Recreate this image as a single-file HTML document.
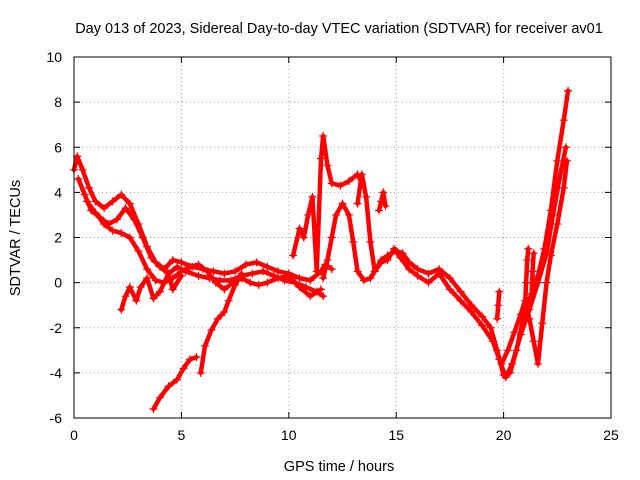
<!DOCTYPE html>
<html><head><meta charset="utf-8"><style>
body{margin:0;background:#fff}
svg{display:block;font-family:"Liberation Sans",sans-serif}
</style></head><body>
<svg id="chart" width="640" height="480">
<rect width="640" height="480" fill="#fff"/>
<text x="339" y="33" font-size="14.5" text-anchor="middle">Day 013 of 2023, Sidereal Day-to-day VTEC variation (SDTVAR) for receiver av01</text>
<g id="grid"></g><g id="marks"></g><g id="axes"></g>
<text x="339" y="471" font-size="14.5" text-anchor="middle">GPS time / hours</text>
<text x="0" y="0" font-size="14.5" text-anchor="middle" transform="translate(20,238) rotate(-90)">SDTVAR / TECUs</text>
</svg>
<script>
const xTicks=[0,5,10,15,20,25];
const yTicks=[-6,-4,-2,0,2,4,6,8,10];
const trackA=[[0,5],[0.15,5.6],[0.4,5],[0.7,4.2],[1,3.6],[1.4,3.3],[1.8,3.6],[2.2,3.9],[2.6,3.5],[3,2.6],[3.4,1.6],[3.8,0.9],[4.2,0.6],[4.6,1],[5,0.9],[5.5,0.7],[6,0.6],[6.5,0.5],[7,0.4],[7.5,0.5],[8,0.8],[8.5,0.9],[9,0.7],[9.5,0.5],[10,0.4],[10.5,0.2],[11,0.1],[11.5,0.5],[11.7,0.8],[12,0.6]];
const trackB=[[0.2,4.6],[0.5,3.9],[0.8,3.2],[1.2,2.9],[1.6,2.6],[2,2.8],[2.4,3.3],[2.8,2.8],[3.2,2],[3.6,1.1],[4,0.7],[4.4,0.4],[4.8,0.7],[5.2,0.5],[5.8,0.3],[6.3,0.2],[6.8,0.1],[7.3,0.1],[7.8,0.3],[8.3,0.4],[8.8,0.5],[9.3,0.3],[9.8,0.1],[10.3,0],[10.8,-0.2],[11.3,-0.4],[11.6,-0.6]];
const trackC=[[0.6,3.6],[1,3.1],[1.4,2.6],[1.8,2.3],[2.2,2.2],[2.6,2],[3,1.4],[3.4,0.6],[3.8,0.1],[4.2,0],[4.6,0.2],[5,0.5],[5.4,0.7],[5.8,0.8],[6.2,0.5],[6.6,0],[7,-0.3],[7.4,0],[7.8,0.2],[8.2,0],[8.6,-0.1],[9,0],[9.5,0.2],[10,0.3],[10.5,-0.2],[11,-0.6],[11.5,-0.3]];
const trackD=[[3.7,-5.6],[4,-5.1],[4.4,-4.6],[4.8,-4.3],[5.1,-3.8],[5.4,-3.4],[5.7,-3.3]];
const trackE=[[5.9,-4],[6.1,-2.8],[6.4,-2.1],[6.7,-1.6],[7,-1.3],[7.2,-0.8],[7.5,-0.1],[7.8,0.4]];
const trackF=[[2.2,-1.2],[2.4,-0.6],[2.6,-0.2],[2.9,-0.8],[3.1,-0.2],[3.4,0.2],[3.7,-0.7],[4,-0.4],[4.4,0.4],[4.6,-0.3],[5,0.3]];
const trackG=[[10.2,1.2],[10.5,2.4],[10.7,2],[10.9,3],[11.1,3.8],[11.3,0.5],[11.5,5.5],[11.6,6.5],[11.8,5.2],[12,4.4],[12.4,4.3],[12.8,4.5],[13.2,4.8],[13.4,4.4]];
const trackH=[[11.6,0.2],[11.8,1],[12,2],[12.2,3],[12.5,3.5],[12.8,3],[13,1.8],[13.2,0.5],[13.5,0.1],[13.8,0.2],[14,0.5],[14.3,1],[14.6,1.2],[15,1.4],[15.3,1.3],[15.6,0.9],[16,0.6],[16.5,0.4],[17,0.6],[17.5,0.2],[18,-0.4],[18.5,-1],[19,-1.5],[19.4,-2],[19.7,-3],[20,-4.1],[20.3,-4],[20.6,-3],[21,-1.2],[21.3,-0.5],[21.6,0.3],[21.9,1.5],[22.2,3.2],[22.5,5.4],[22.8,7.2],[23,8.5]];
const trackI=[[13.2,3.5],[13.4,4.8],[13.6,3.8],[13.8,1.8],[14,0.5],[14.3,0.9],[14.6,1],[14.9,1.5],[15.2,1.1],[15.6,0.6],[16,0.3],[16.5,0],[17,0.4],[17.5,-0.3],[18,-0.8],[18.5,-1.3],[19,-1.9],[19.5,-2.6],[19.8,-3.4],[20.1,-4.2],[20.4,-3.6],[20.8,-2.3],[21.2,-1.2],[21.6,0],[22,1.3],[22.3,3],[22.6,4.6],[22.9,6]];
const trackJ=[[19.9,-3.6],[20.2,-3],[20.5,-2.2],[20.8,-1.4],[21,-0.8],[21.2,-1.6],[21.4,-2.6],[21.6,-3.6],[21.8,-1.8],[22,0],[22.2,1.2],[22.5,2.6],[22.8,4.2],[22.95,5.4]];
const trackL=[[14.2,3.2],[14.3,3.6],[14.4,4],[14.5,3.4]];
const trackM=[[19.7,-1.6],[19.75,-1],[19.8,-0.4]];
const trackN=[[21.0,-1],[21.05,0],[21.1,1],[21.15,1.5]];
const trackO=[[21.3,-0.5],[21.35,0.5],[21.4,1.3]];
const series=[trackA,trackB,trackC,trackD,trackE,trackF,trackG,trackH,trackI,trackJ,trackL,trackM,trackN,trackO];
const X0=74,X1=611,Y0=418,Y1=57;
const sx=v=>X0+(v-0)/(25-0)*(X1-X0);
const sy=v=>Y0-(v+6)/(10+6)*(Y0-Y1);
const NS="http://www.w3.org/2000/svg";
function mk(t,a,p){const e=document.createElementNS(NS,t);for(const k in a)e.setAttribute(k,a[k]);p.appendChild(e);return e;}
const grid=document.getElementById('grid'),axes=document.getElementById('axes'),marks=document.getElementById('marks');
xTicks.forEach(t=>{
 if(t>0&&t<25){const g=mk('line',{x1:sx(t),x2:sx(t),y1:Y1,y2:Y0,stroke:'#a0a0a0','stroke-dasharray':'1,3'},grid);
 }
 const l=mk('text',{x:sx(t),y:Y0+22,'font-size':14,'text-anchor':'middle'},axes);l.textContent=t;
 
 mk('line',{x1:sx(t),x2:sx(t),y1:Y0,y2:Y0-6,stroke:'#000'},axes);
 mk('line',{x1:sx(t),x2:sx(t),y1:Y1,y2:Y1+6,stroke:'#000'},axes);
});
yTicks.forEach(t=>{
 if(t>-6&&t<10){const g=mk('line',{x1:X0,x2:X1,y1:sy(t),y2:sy(t),stroke:'#a0a0a0','stroke-dasharray':'1,3'},grid);
 }
 const l=mk('text',{x:X0-12,y:sy(t)+5,'font-size':14,'text-anchor':'end'},axes);l.textContent=t;
 
 mk('line',{x1:X0,x2:X0+6,y1:sy(t),y2:sy(t),stroke:'#000'},axes);
 mk('line',{x1:X1,x2:X1-6,y1:sy(t),y2:sy(t),stroke:'#000'},axes);
});
const fr=mk('rect',{x:X0,y:Y1,width:X1-X0,height:Y0-Y1,fill:'none',stroke:'#000'},axes);

function drawTrack(tr){
 const p=mk('polyline',{points:tr.map(d=>sx(d[0])+','+sy(d[1])).join(' '),fill:'none',stroke:'#f00','stroke-width':4.5,'stroke-linejoin':'round','stroke-linecap':'round'},marks);
 
 tr.forEach(d=>{const x=sx(d[0]),y=sy(d[1]);
  const m=mk('path',{d:`M${x-4},${y}H${x+4}M${x},${y-4}V${y+4}`,stroke:'#f00','stroke-width':1.2},marks);
  });
}
series.forEach(s=>drawTrack(s));
</script>
</body></html>
